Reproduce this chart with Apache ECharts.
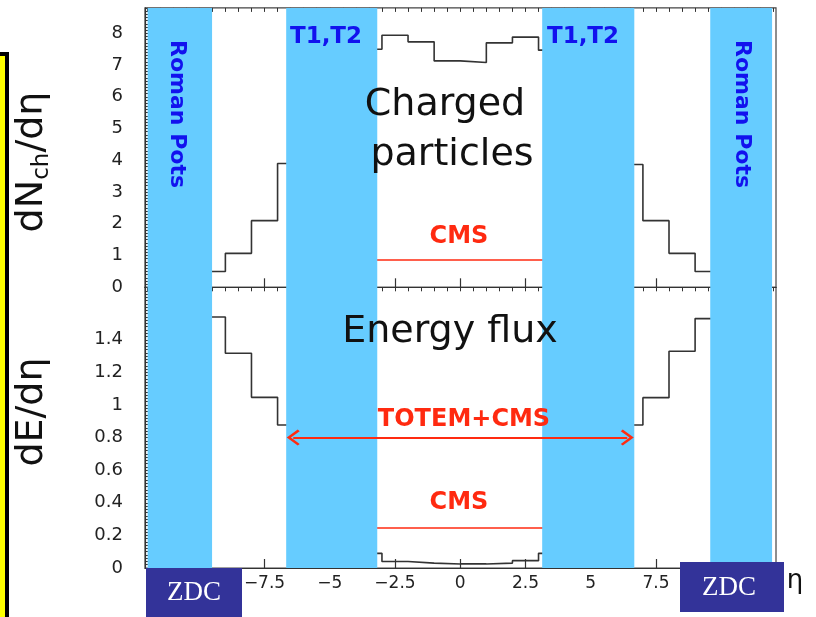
<!DOCTYPE html>
<html><head><meta charset="utf-8">
<script src="https://cdn.jsdelivr.net/npm/echarts@6/dist/echarts.min.js"></script>
<style>html,body{margin:0;padding:0;background:#fff;overflow:hidden}#c{width:816px;height:617px}</style>
</head><body><div id="c"></div>
<script>
// ---------- data ----------
const binEdges = [-10,-9,-8,-7,-6,-5,-4,-3,-2,-1,0,1,2,3,4,5,6,7,8,9,10];
// charged particle density dNch/deta per bin (null = hidden behind detector bands)
const dNchValues = [0.5,1.07,2.1,3.9,null,null,7.5,7.94,7.73,7.13,7.08,7.7,7.88,7.47,null,null,3.87,2.1,1.07,0.5];
// energy flux dE/deta per bin
const dEValues = [1.54,1.317,1.047,0.877,null,null,0.09,0.04,0.03,0.025,0.025,0.03,0.045,0.09,null,null,0.877,1.045,1.33,1.53];
// detector coverage bands (eta)
const romanPotsLeft = [-11.98,-9.51];
const t1t2Left = [-6.67,-3.18];
const t1t2Right = [3.14,6.67];
const romanPotsRight = [9.58,11.95];
// acceptance lines
const cmsRange = [-3.3,3.3];
const cmsLevelTop = 0.88;
const cmsLevelBottom = 0.245;
const totemCmsRange = [-6.4,6.4];
const totemCmsLevel = 0.8;
// axis ticks / labels
const xTickLabels = [-10,-7.5,-5,-2.5,0,2.5,5,7.5,10];
const yLabelsTop = [0,1,2,3,4,5,6,7,8];
const yLabelsBottom = [0,0.2,0.4,0.6,0.8,1,1.2,1.4];
const xMin = -12.08, xMax = 12.1;
const yMaxTop = 8.8, yMaxBottom = 1.722;

const xMinorTicks = [];
for (let v = -12; v <= 12.0001; v += 0.5) xMinorTicks.push(+v.toFixed(2));

function histData(edges, vals){
  const d = [];
  for (let i = 0; i < vals.length; i++){
    if (vals[i] == null) { d.push([edges[i], '-']); }
    else { d.push([edges[i], vals[i]]); d.push([edges[i+1], vals[i]]); }
  }
  return d;
}
const bands = [romanPotsLeft, t1t2Left, t1t2Right, romanPotsRight];

const BAND = '#66ccff', RED = '#ff2a10', BLUE = '#1212ee', AXC = '#333';
const chevron = 'path://M8,0 L16,11 L14.4,13 L8,4.2 L1.6,13 L0,11 Z';

function xAxisBase(gi, labels){
  return {
    type:'value', gridIndex:gi, min:xMin, max:xMax,
    axisLine:{show:true, onZero:false, lineStyle:{color:AXC, width:1.2}},
    axisTick:{show:true, inside:true, length:9, customValues:xTickLabels, lineStyle:{color:AXC, width:1.2}},
    axisLabel: labels ? {show:true, customValues:xTickLabels, margin:7, fontSize:17, fontFamily:'DejaVu Sans', color:'#222',
      formatter:v=>String(v).replace('-','\u2212')} : {show:false},
    splitLine:{show:false}
  };
}
function xAxisMinor(gi){
  return {
    type:'value', gridIndex:gi, min:xMin, max:xMax,
    axisLine:{show:false, onZero:false},
    axisTick:{show:true, inside:true, length:4, customValues:xMinorTicks, lineStyle:{color:AXC, width:1}},
    axisLabel:{show:false},
    splitLine:{show:false}
  };
}
function yAxisBase(gi, max, interval, labels){
  return {
    type:'value', gridIndex:gi, min:0, max:max, interval:interval,
    axisLine:{show:true, onZero:false, lineStyle:{color:AXC, width:1.2}},
    axisTick:{show:true, inside:true, length:6, lineStyle:{color:AXC}},
    minorTick:{show:true, splitNumber:10, length:3, lineStyle:{color:AXC}},
    axisLabel:{show:true, customValues:labels, margin:22, fontSize:18, fontFamily:'DejaVu Sans', color:'#222'},
    splitLine:{show:false}, minorSplitLine:{show:false}
  };
}

const chart = echarts.init(document.getElementById('c'), null, {renderer:'canvas'});
function txt(t, x, y, size, color, extra, z){
  return {type:'text', x:x, y:y, z:z||100,
    style:Object.assign({text:t, fontSize:size, fontFamily:'DejaVu Sans', fill:color, align:'center', verticalAlign:'middle'}, extra||{})};
}

chart.setOption({
  animation:false,
  backgroundColor:'#fff',
  grid:[
    {left:145, top:7.9, width:631, height:279.4, show:true, borderColor:'#444', borderWidth:1.2, backgroundColor:'transparent'},
    {left:145, top:287.3, width:631, height:280.7, show:true, borderColor:'#444', borderWidth:1.2, backgroundColor:'transparent'},
    {left:145, top:7.9, width:631, height:560.1, show:false}
  ],
  xAxis:[xAxisBase(0,false), xAxisBase(1,true), xAxisMinor(0), xAxisMinor(1),
    {type:'value', gridIndex:2, min:xMin, max:xMax, show:false}],
  yAxis:[yAxisBase(0, yMaxTop, 1, yLabelsTop), yAxisBase(1, yMaxBottom, 0.2, yLabelsBottom),
    {type:'value', gridIndex:2, min:0, max:1, show:false}],
  series:[
    {type:'line', name:'dNch/deta', xAxisIndex:0, yAxisIndex:0, z:2, symbol:'none', connectNulls:false,
      lineStyle:{color:'#333', width:1.6}, data:histData(binEdges, dNchValues),
      markLine:{silent:true, symbol:'none', z:3, label:{show:false}, lineStyle:{color:RED, width:1.5, type:'solid'},
        data:[[{coord:[cmsRange[0], cmsLevelTop]},{coord:[cmsRange[1], cmsLevelTop]}]]}},
    {type:'line', name:'dE/deta', xAxisIndex:1, yAxisIndex:1, z:2, symbol:'none', connectNulls:false,
      lineStyle:{color:'#333', width:1.6}, data:histData(binEdges, dEValues),
      markLine:{silent:true, symbol:'none', z:3, label:{show:false}, lineStyle:{color:RED, width:1.5, type:'solid'},
        data:[[{coord:[cmsRange[0], cmsLevelBottom]},{coord:[cmsRange[1], cmsLevelBottom]}]]}},
    {type:'line', xAxisIndex:4, yAxisIndex:2, data:[], silent:true,
      markArea:{silent:true, z:10, itemStyle:{color:BAND, opacity:1, borderWidth:0},
        data:bands.map(b=>[{xAxis:b[0]},{xAxis:b[1]}])}},
    {type:'line', xAxisIndex:1, yAxisIndex:1, data:[], silent:true,
      markLine:{silent:true, z:20, symbol:[chevron, chevron], symbolSize:[16,13], label:{show:false},
        lineStyle:{color:RED, width:2.2, type:'solid'},
        data:[[{coord:[totemCmsRange[0], totemCmsLevel]},{coord:[totemCmsRange[1], totemCmsLevel]}]]}}
  ],
  graphic:[
    {type:'rect', z:100, shape:{x:-6, y:54, width:13, height:600}, style:{fill:'#ffff00', stroke:'#000', lineWidth:4}},
    {type:'text', z:100, x:32, y:162, rotation:Math.PI/2,
      style:{text:'{a|dN}{s|ch}{a|/dη}', align:'center', verticalAlign:'middle',
        rich:{a:{fontSize:38, fontFamily:'DejaVu Sans', fill:'#111', lineHeight:44},
              s:{fontSize:23, fontFamily:'DejaVu Sans', fill:'#111', lineHeight:20, verticalAlign:'bottom'}}}},
    {type:'text', z:100, x:32, y:412, rotation:Math.PI/2,
      style:{text:'dE/dη', align:'center', verticalAlign:'middle', fontSize:38, fontFamily:'DejaVu Sans', fill:'#111'}},
    txt('Charged', 445, 105, 38, '#111'),
    txt('particles', 452, 155, 38, '#111'),
    txt('Energy flux', 450, 332, 38, '#111'),
    txt('T1,T2', 326, 37, 23, BLUE, {fontWeight:'bold'}),
    txt('T1,T2', 583, 37, 23, BLUE, {fontWeight:'bold'}),
    {type:'text', z:100, x:177, y:114, rotation:-Math.PI/2,
      style:{text:'Roman Pots', align:'center', verticalAlign:'middle', fontSize:22, fontWeight:'bold', fontFamily:'DejaVu Sans', fill:BLUE}},
    {type:'text', z:100, x:742, y:114, rotation:-Math.PI/2,
      style:{text:'Roman Pots', align:'center', verticalAlign:'middle', fontSize:22, fontWeight:'bold', fontFamily:'DejaVu Sans', fill:BLUE}},
    txt('CMS', 459, 237, 24, RED, {fontWeight:'bold'}),
    txt('TOTEM+CMS', 464, 420, 24, RED, {fontWeight:'bold'}),
    txt('CMS', 459, 503, 24, RED, {fontWeight:'bold'}),
    {type:'rect', z:110, shape:{x:146, y:568, width:96, height:50}, style:{fill:'#333399'}},
    txt('ZDC', 194, 593, 27, '#fff', {fontFamily:'Liberation Serif'}, 120),
    {type:'rect', z:110, shape:{x:680, y:562, width:104, height:50}, style:{fill:'#333399'}},
    txt('ZDC', 729, 588, 27, '#fff', {fontFamily:'Liberation Serif'}, 120),
    txt('η', 795, 581, 26, '#111')
  ]
});
</script></body></html>
